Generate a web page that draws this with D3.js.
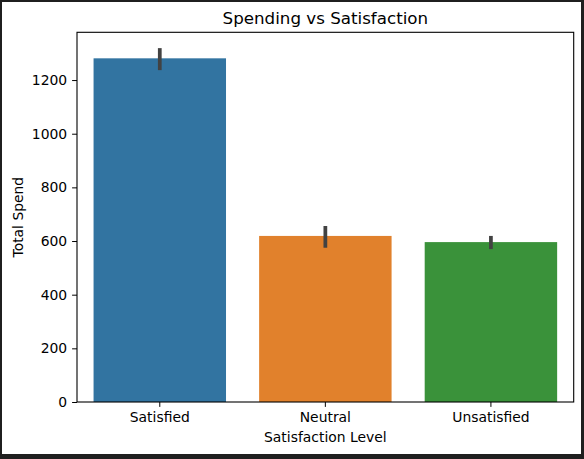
<!DOCTYPE html>
<html lang="en">
<head>
<meta charset="UTF-8">
<title>Spending vs Satisfaction</title>
<style>
  body { margin: 0; background: #fff; }
  svg { display: block; }
  text { font-family: 'DejaVu Sans', sans-serif; fill: #000; }
</style>
</head>
<body>
<svg width="584" height="459"></svg>
<script src="https://d3js.org/d3.v7.min.js"></script>
<script>
// data
const levels = ["Satisfied", "Neutral", "Unsatisfied"];
const meanSpend = [1281, 619, 596];
const ciLow = [1237, 575, 570];
const ciHigh = [1319, 656, 619];
const barColors = ["#3274a1", "#e1812c", "#3a923a"];
const yTicks = [0, 200, 400, 600, 800, 1000, 1200];

const W = 584, H = 459;
const margin = { top: 32.3, right: 10.3, bottom: 57, left: 77 };
const svg = d3.select("svg");

// dark frame round the figure
svg.append("rect").attr("width", W).attr("height", H).attr("fill", "#1f1f1f");
svg.append("rect").attr("x", 2).attr("y", 2).attr("width", 579).attr("height", 452).attr("fill", "#fff");

const x = d3.scaleBand()
    .domain(levels)
    .range([margin.left, W - margin.right])
    .paddingInner(0.2)
    .paddingOuter(0.1);

const y = d3.scaleLinear()
    .domain([0, 1378])
    .range([H - margin.bottom, margin.top]);

const data = levels.map((lv, i) => ({ lv, mean: meanSpend[i], lo: ciLow[i], hi: ciHigh[i], color: barColors[i] }));

// bars
svg.selectAll(".bar")
    .data(data)
    .enter().append("rect")
    .attr("class", "bar")
    .attr("x", d => x(d.lv))
    .attr("width", x.bandwidth())
    .attr("y", d => y(d.mean))
    .attr("height", d => y(0) - y(d.mean))
    .attr("fill", d => d.color);

// error bars
svg.selectAll(".err")
    .data(data)
    .enter().append("line")
    .attr("class", "err")
    .attr("x1", d => x(d.lv) + x.bandwidth() / 2)
    .attr("x2", d => x(d.lv) + x.bandwidth() / 2)
    .attr("y1", d => y(d.lo))
    .attr("y2", d => y(d.hi))
    .attr("stroke", "#424242")
    .attr("stroke-width", 3.75);

// axes
const xAxis = svg.append("g")
    .attr("transform", `translate(0,${H - margin.bottom})`)
    .call(d3.axisBottom(x).tickSize(4.9).tickPadding(4.9).tickSizeOuter(0));

const yAxis = svg.append("g")
    .attr("transform", `translate(${margin.left},0)`)
    .call(d3.axisLeft(y).tickValues(yTicks).tickFormat(d3.format("d"))
        .tickSize(4.9).tickPadding(4.9).tickSizeOuter(0));

[xAxis, yAxis].forEach(g => {
    g.select(".domain").remove();
    g.selectAll(".tick line").attr("stroke", "#000").attr("stroke-width", 1);
    g.selectAll(".tick text")
        .attr("font-family", "'DejaVu Sans', sans-serif")
        .attr("font-size", 13.9)
        .attr("fill", "#000");
});

// axes frame
svg.append("rect")
    .attr("x", margin.left)
    .attr("y", margin.top)
    .attr("width", W - margin.right - margin.left)
    .attr("height", H - margin.bottom - margin.top)
    .attr("fill", "none")
    .attr("stroke", "#000")
    .attr("stroke-width", 1.1);

// titles
svg.append("text")
    .attr("x", (margin.left + W - margin.right) / 2)
    .attr("y", 24)
    .attr("text-anchor", "middle")
    .attr("font-size", 16.7)
    .text("Spending vs Satisfaction");

svg.append("text")
    .attr("x", (margin.left + W - margin.right) / 2)
    .attr("y", 442)
    .attr("text-anchor", "middle")
    .attr("font-size", 13.9)
    .text("Satisfaction Level");

svg.append("text")
    .attr("transform", `translate(22.5,${(margin.top + H - margin.bottom) / 2}) rotate(-90)`)
    .attr("text-anchor", "middle")
    .attr("font-size", 13.9)
    .text("Total Spend");
</script>
</body>
</html>
